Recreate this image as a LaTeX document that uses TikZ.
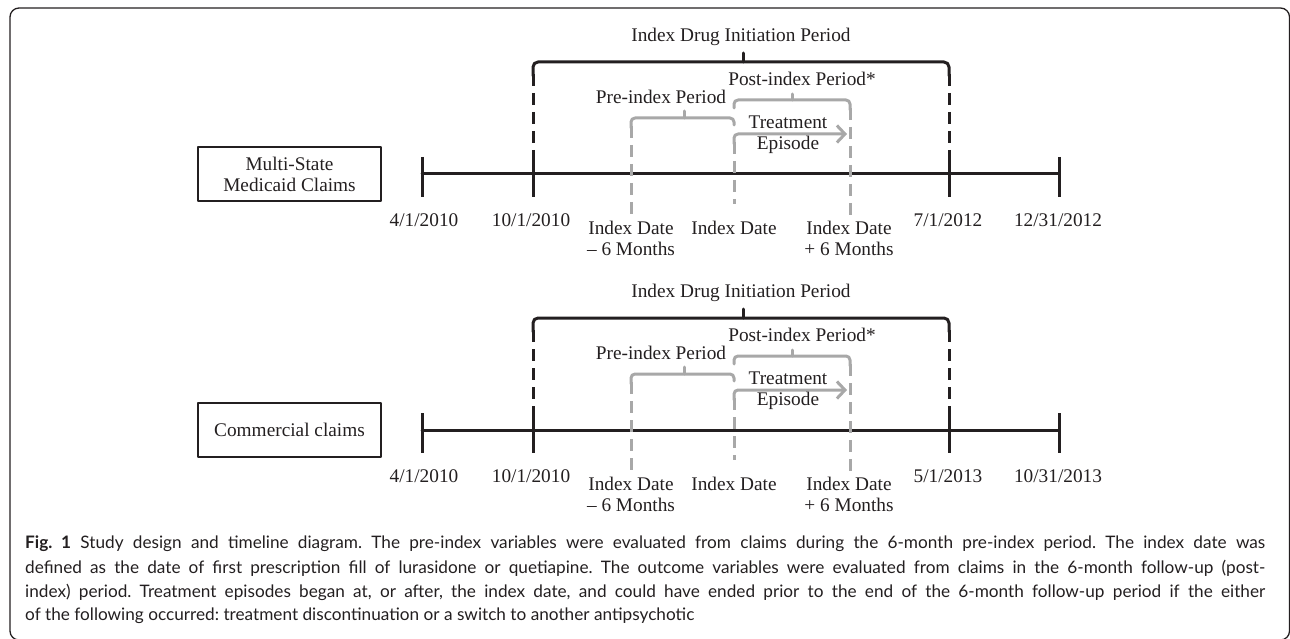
\documentclass[tikz,border=0pt]{standalone}
\usepackage{fontspec}
\setmainfont{Liberation Serif}
\newfontfamily\capfont{Lato}
\usetikzlibrary{arrows.meta}
\frenchspacing
\definecolor{ink}{RGB}{35,31,32}
\definecolor{lgray}{RGB}{168,168,168}
\tikzset{
  blk/.style={line width=3pt, draw=ink},
  gry/.style={line width=3pt, draw=lgray},
  blkdash/.style={blk, line cap=butt, dash pattern=on 12pt off 7pt},
  grydash/.style={gry, line cap=butt, dash pattern=on 12pt off 7pt},
  lbl/.style={text=ink, inner sep=0pt, align=center},
  claimbox/.style={draw=ink, line width=1.2pt, text=ink, align=center, minimum width=183pt, minimum height=54pt},
  capline/.style={text=ink, inner sep=0pt, anchor=west, font=\capfont\fontsize{17.2}{20}\selectfont}
}
\begin{document}
\begin{tikzpicture}[x=1pt, y=-1pt, font=\fontsize{19.3}{21}\selectfont, line join=round, line cap=round]
    \useasboundingbox (0,0) rectangle (1290,639);
    \def\xa{422} \def\xb{533} \def\xc{631} \def\xd{734} \def\xe{849} \def\xf{949} \def\xg{1059} % Ticks
    \draw[line width=1.3pt, ink, rounded corners=9pt] (10,8) rectangle (1289.5,640);
    \foreach \T/\p/\lab/\dc/\dd in {174/a/{Multi-State\\Medicaid Claims}/{7/1/2012}/{12/31/2012},
                                    430/b/{Commercial claims}/{5/1/2013}/{10/31/2013}}{
        \node[claimbox] (box\p) at (289.5,\T) {\lab};
        \draw[blk] (\xa,\T) -- (\xg,\T);
        \foreach \xx in {\xa,\xb,\xf,\xg} \draw[blk, line cap=butt] (\xx,\T-17) -- (\xx,\T+23);
        % Index drug initiation period
        \draw[blk, rounded corners=5pt] (\xb,\T-98) -- (\xb,\T-112) -- (\xf,\T-112) -- (\xf,\T-98);
        \draw[blk] (743,\T-112) -- (743,\T-121);
        \draw[blkdash] (\xb,\T-100) -- (\xb,\T-17);
        \draw[blkdash] (\xf,\T-100) -- (\xf,\T-17);
        \node[lbl] (idip\p) at (741,\T-137) {Index Drug Initiation Period};
        % Pre-index / post-index
        \draw[gry, rounded corners=4pt] (\xc,\T-46) -- (\xc,\T-56) -- (\xd,\T-56) -- (\xd,\T-49);
        \draw[gry] (684,\T-56) -- (684,\T-63);
        \draw[gry, rounded corners=4pt] (\xd,\T-66) -- (\xd,\T-74) -- (\xe+1,\T-74) -- (\xe+1,\T-64);
        \draw[gry] (792,\T-74) -- (792,\T-80);
        \draw[grydash] (\xc,\T-48) -- (\xc,\T+43);
        \draw[grydash] (\xe+1,\T-66) -- (\xe+1,\T+43);
        \draw[grydash] (\xd,\T-32) -- (\xd,\T+30);
        \draw[gry, rounded corners=4pt, -{Straight Barb[length=8pt,width=17pt]}] (\xd,\T-30) -- (\xd,\T-40) -- (\xe-2,\T-40);
        \node[lbl] (pre\p) at (661,\T-77) {Pre-index Period};
        \node[lbl] (post\p) at (802,\T-95) {Post-index Period*};
        \node[lbl] (trt\p) at (788,\T-52) {Treatment};
        \node[lbl] (epi\p) at (788,\T-29) {Episode};
        % Dates
        \node[lbl] (da\p) at (424,\T+46) {4/1/2010};
        \node[lbl] (db\p) at (531,\T+46) {10/1/2010};
        \node[lbl] (dc\p) at (948,\T+46) {\dc};
        \node[lbl] (dd\p) at (1058,\T+46) {\dd};
        \node[lbl] (ixa\p) at (\xc,\T+64.5) {Index Date\\-- 6 Months};
        \node[lbl] (ixb\p) at (\xd,\T+54) {Index Date};
        \node[lbl] (ixc\p) at (\xe,\T+64.5) {Index Date\\+ 6 Months};
    }
    \node[capline] (cap1) at (25,544) {\makebox[1240pt][s]{\textbf{Fig. 1} Study design and timeline diagram. The pre-index variables were evaluated from claims during the 6-month pre-index period. The index date was}};
    \node[capline] (cap2) at (25,568) {\makebox[1240pt][s]{defined as the date of first prescription fill of lurasidone or quetiapine. The outcome variables were evaluated from claims in the 6-month follow-up (post-}};
    \node[capline] (cap3) at (25,592) {\makebox[1240pt][s]{index) period. Treatment episodes began at, or after, the index date, and could have ended prior to the end of the 6-month follow-up period if the either}};
    \node[capline] (cap4) at (25,616) {of the following occurred: treatment discontinuation or a switch to another antipsychotic};
\end{tikzpicture}
\end{document}
